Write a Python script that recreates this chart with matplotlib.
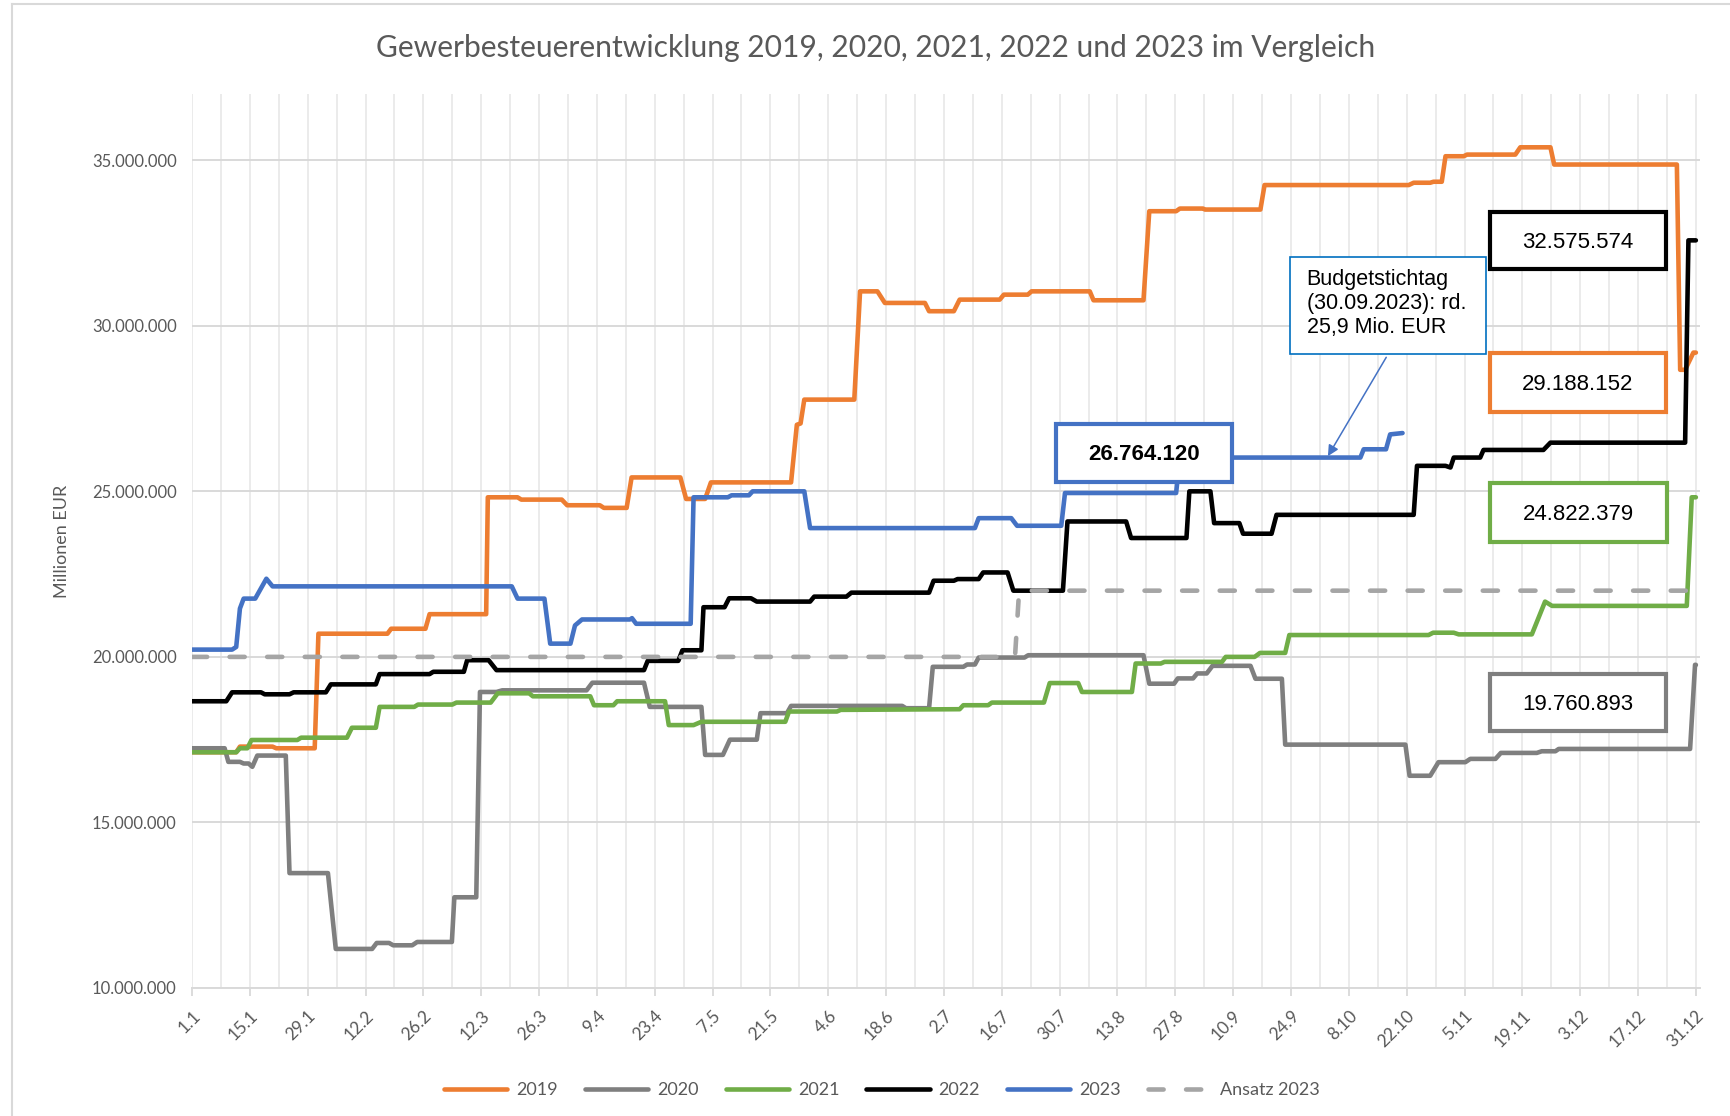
import matplotlib
matplotlib.use('Agg')
import matplotlib.pyplot as plt
import matplotlib.patches as mpatches
from matplotlib.ticker import FixedLocator, FuncFormatter
import numpy as np

plt.rcParams['font.family'] = ['Lato', 'DejaVu Sans']

# day of year (0 = 1.1.) and value in Mio. EUR
pts_2019 = [(0, 17.12), (10.7, 17.12), (11.6, 17.29), (19.5, 17.29), (20.4, 17.24), (29.7, 17.24),
            (30.6, 20.70), (47.3, 20.70), (48.2, 20.85), (56.5, 20.85), (57.5, 21.29), (71.2, 21.29),
            (71.6, 24.82), (78.8, 24.82), (79.7, 24.75), (89.5, 24.75), (90.8, 24.58), (98.7, 24.58),
            (99.7, 24.50), (105.2, 24.50), (106.4, 25.42), (118.2, 25.42), (119.6, 24.77), (124.2, 24.77),
            (125.6, 25.27), (145.0, 25.27), (146.4, 27.01), (147.3, 27.05), (148.2, 27.77), (160.3, 27.77),
            (161.7, 31.04), (165.9, 31.04), (167.7, 30.69), (177.4, 30.69), (178.4, 30.44), (184.4, 30.44),
            (185.8, 30.79), (195.5, 30.79), (196.5, 30.94), (202.3, 30.94), (203.2, 31.04), (217.3, 31.04),
            (218.2, 30.77), (230.3, 30.77), (231.7, 33.46), (238.2, 33.46), (239.1, 33.54), (244.7, 33.54),
            (245.2, 33.51), (258.6, 33.51), (259.6, 34.25), (294.5, 34.25), (295.7, 34.32), (299.7, 34.32),
            (300.5, 34.35), (302.5, 34.35), (303.4, 35.12), (307.8, 35.12), (308.6, 35.17), (320.3, 35.17),
            (321.5, 35.39), (328.8, 35.39), (329.7, 34.87), (359.4, 34.87), (360.2, 28.67), (361.4, 28.67),
            (363.4, 29.19), (364, 29.19)]

pts_2020 = [(0, 17.24), (7.9, 17.24), (8.8, 16.83), (11.6, 16.83), (12.5, 16.78), (13.7, 16.78),
            (14.6, 16.68), (15.8, 17.02), (22.7, 17.02), (23.6, 13.47), (32.9, 13.47), (34.8, 11.18),
            (43.6, 11.18), (44.7, 11.36), (47.7, 11.36), (48.7, 11.29), (53.3, 11.29), (54.5, 11.39),
            (62.9, 11.39), (63.5, 12.74), (68.8, 12.74), (69.7, 18.94), (73.7, 18.94), (75.1, 18.99),
            (95.5, 18.99), (96.9, 19.22), (109.4, 19.22), (110.8, 18.49), (123.3, 18.49), (124.2, 17.04),
            (128.5, 17.04), (130.2, 17.50), (136.7, 17.50), (137.6, 18.30), (144.0, 18.30), (145.0, 18.52),
            (171.9, 18.52), (172.8, 18.45), (178.4, 18.45), (179.3, 19.70), (186.7, 19.70), (187.6, 19.77),
            (189.5, 19.77), (190.4, 19.98), (201.5, 19.98), (202.4, 20.05), (230.3, 20.05), (231.7, 19.19),
            (237.7, 19.19), (238.6, 19.35), (242.3, 19.35), (243.3, 19.50), (245.6, 19.50), (247.0, 19.73),
            (256.2, 19.73), (257.4, 19.34), (263.8, 19.34), (264.6, 17.35), (293.7, 17.35), (294.7, 16.41),
            (299.7, 16.41), (301.7, 16.82), (308.2, 16.82), (309.4, 16.92), (315.5, 16.92), (316.8, 17.10),
            (325.5, 17.10), (326.7, 17.15), (330.0, 17.15), (330.8, 17.22), (362.6, 17.22), (363.8, 19.76),
            (364, 19.76)]

pts_2021 = [(0, 17.12), (10.7, 17.12), (11.6, 17.24), (13.4, 17.24), (14.4, 17.49), (25.5, 17.49),
            (26.4, 17.56), (37.5, 17.56), (38.7, 17.86), (44.5, 17.86), (45.4, 18.49), (53.8, 18.49),
            (54.7, 18.56), (63.0, 18.56), (64.0, 18.62), (72.3, 18.62), (74.0, 18.90), (81.6, 18.90),
            (82.5, 18.81), (96.4, 18.81), (97.3, 18.54), (102.0, 18.54), (102.9, 18.66), (114.5, 18.66),
            (115.4, 17.94), (121.4, 17.94), (123.3, 18.04), (143.6, 18.04), (144.5, 18.35), (156.1, 18.35),
            (157.0, 18.40), (185.8, 18.42), (186.7, 18.54), (192.7, 18.54), (193.6, 18.62), (206.2, 18.62),
            (207.6, 19.21), (214.5, 19.21), (215.4, 18.94), (227.5, 18.94), (228.4, 19.80), (234.5, 19.80),
            (235.4, 19.85), (249.3, 19.85), (250.2, 20.00), (257.2, 20.00), (258.5, 20.12), (264.6, 20.12),
            (265.6, 20.66), (299.3, 20.66), (300.4, 20.73), (305.4, 20.73), (306.6, 20.68), (324.3, 20.68),
            (327.5, 21.67), (329.2, 21.54), (361.8, 21.54), (363.0, 24.82), (364, 24.82)]

pts_2022 = [(0, 18.66), (8.3, 18.66), (9.7, 18.93), (16.7, 18.93), (17.6, 18.87), (23.6, 18.87),
            (24.6, 18.93), (32.4, 18.93), (33.6, 19.17), (44.5, 19.17), (45.4, 19.48), (57.5, 19.48),
            (58.4, 19.55), (65.8, 19.55), (66.6, 19.90), (71.8, 19.90), (73.7, 19.60), (109.4, 19.60),
            (110.3, 19.88), (117.7, 19.88), (118.7, 20.20), (123.3, 20.20), (123.8, 21.50), (128.9, 21.50),
            (130.0, 21.77), (135.3, 21.77), (136.7, 21.67), (149.6, 21.67), (150.6, 21.82), (158.4, 21.82),
            (159.6, 21.94), (178.4, 21.94), (179.5, 22.30), (184.4, 22.30), (185.3, 22.35), (190.4, 22.35),
            (191.5, 22.55), (197.4, 22.55), (198.8, 22.00), (210.8, 22.00), (211.9, 24.09), (226.1, 24.09),
            (227.3, 23.59), (240.7, 23.59), (241.4, 25.00), (246.5, 25.00), (247.4, 24.04), (253.5, 24.04),
            (254.4, 23.72), (261.3, 23.72), (262.5, 24.29), (295.7, 24.29), (296.5, 25.77), (303.4, 25.77),
            (304.6, 25.72), (305.4, 26.02), (311.8, 26.02), (312.6, 26.25), (327.1, 26.25), (328.8, 26.47),
            (361.4, 26.47), (362.2, 32.58), (364, 32.58)]

pts_2023 = [(0, 20.22), (9.7, 20.22), (10.7, 20.30), (11.6, 21.46), (12.5, 21.76), (15.3, 21.76),
            (18.0, 22.36), (19.5, 22.13), (77.4, 22.13), (78.8, 21.76), (85.3, 21.76), (86.7, 20.40),
            (91.6, 20.40), (92.7, 20.95), (94.4, 21.13), (106.0, 21.13), (106.5, 21.17), (107.5, 21.00),
            (120.7, 21.00), (121.4, 24.82), (129.7, 24.82), (130.6, 24.88), (134.8, 24.88), (135.7, 25.00),
            (148.2, 25.00), (149.6, 23.89), (189.5, 23.89), (190.4, 24.19), (198.3, 24.19), (199.7, 23.96),
            (210.4, 23.96), (211.3, 24.95), (238.2, 24.95), (239.1, 26.02), (282.8, 26.02), (283.6, 26.27),
            (289.0, 26.27), (290.0, 26.72), (293.0, 26.76)]

pts_ansatz = [(0, 20.0), (199.2, 20.0), (200.2, 22.0), (364, 22.0)]

series = ['2019', '2020', '2021', '2022', '2023']
colors = ['#ED7D31', '#7F7F7F', '#70AD47', '#000000', '#4472C4']
ansatz_color = '#A5A5A5'

tick_days = list(range(0, 365, 14))
tick_labels = ['1.1', '15.1', '29.1', '12.2', '26.2', '12.3', '26.3', '9.4', '23.4', '7.5', '21.5',
               '4.6', '18.6', '2.7', '16.7', '30.7', '13.8', '27.8', '10.9', '24.9', '8.10', '22.10',
               '5.11', '19.11', '3.12', '17.12', '31.12']

end_labels = ['29.188.152', '19.760.893', '24.822.379', '32.575.574', '26.764.120']
# label boxes (day_from, day_to, value_from, value_to)
label_boxes = [(314.1, 356.7, 27.40, 29.17), (314.1, 356.7, 17.76, 19.48),
               (314.1, 356.9, 23.46, 25.24), (314.1, 356.7, 31.71, 33.44),
               (209.2, 251.7, 25.29, 27.03)]

txt_col = '#595959'
fig = plt.figure(figsize=(17.31, 11.16), dpi=100)
ax = fig.add_axes([192 / 1731, 1 - 988 / 1116, (1700 - 192) / 1731, (988 - 94) / 1116])

all_pts = [pts_2019, pts_2020, pts_2021, pts_2022, pts_2023]
handles = []
for pts, name, col in zip(all_pts, series, colors):
    d = np.array(pts)
    h, = ax.plot(d[:, 0], d[:, 1] * 1e6, color=col, lw=3.3, label=name,
                 solid_joinstyle='round', solid_capstyle='round', zorder=3)
    handles.append(h)
d = np.array(pts_ansatz)
h, = ax.plot(d[:, 0], d[:, 1] * 1e6, color=ansatz_color, lw=3.3, dashes=(3.3, 4.9),
             dash_capstyle='round', label='Ansatz 2023', zorder=4)
handles.append(h)

# value boxes
for (x0, x1, y0, y1), lab, col in zip(label_boxes, end_labels, colors):
    ax.add_patch(mpatches.Rectangle((x0, y0 * 1e6), x1 - x0, (y1 - y0) * 1e6, facecolor='white',
                                    edgecolor=col, lw=3.0, zorder=6))
    ax.text((x0 + x1) / 2, (y0 + y1) / 2 * 1e6 - 0.05e6, lab, ha='center', va='center', fontsize=16,
            family='Liberation Sans', fontweight='bold' if lab == '26.764.120' else 'normal',
            color='black', zorder=7)

# callout
ax.add_patch(mpatches.Rectangle((265.7, 29.14e6), 313.2 - 265.7, (32.08 - 29.14) * 1e6,
                                facecolor='white', edgecolor='#0070C0', lw=1.2, zorder=6))
ax.text(269.8, 31.72e6, 'Budgetstichtag\n(30.09.2023): rd.\n25,9 Mio. EUR', ha='left', va='top',
        fontsize=15.5, family='Liberation Sans', linespacing=1.2, color='black', zorder=7)
ax.annotate('', xy=(274.6, 25.99e6), xytext=(289.4, 29.12e6),
            arrowprops=dict(arrowstyle='-|>', color='#4472C4', lw=1.1, mutation_scale=16), zorder=7)

ax.set_xlim(0, 365)
ax.set_ylim(10e6, 37e6)
ax.set_yticks(np.arange(10e6, 35.1e6, 5e6))
ax.yaxis.set_major_formatter(FuncFormatter(lambda v, p: f'{v:,.0f}'.replace(',', '.')))
ax.xaxis.set_major_locator(FixedLocator(tick_days))
ax.set_xticklabels(tick_labels, rotation=45, ha='right', rotation_mode='anchor')
ax.xaxis.set_minor_locator(FixedLocator(list(range(7, 365, 14))))
ax.tick_params(axis='y', length=0, pad=11, labelsize=12, labelcolor=txt_col)
ax.tick_params(axis='x', which='major', length=6, width=1.3, color='#D9D9D9', pad=8,
               labelsize=12.5, labelcolor=txt_col)
ax.tick_params(axis='x', which='minor', length=0)
ax.grid(axis='y', color='#D9D9D9', lw=1.4, zorder=0)
ax.grid(axis='x', which='both', color='#EBEBEB', lw=1.4, zorder=0)
ax.set_axisbelow(True)
for s in ['top', 'right', 'left']:
    ax.spines[s].set_visible(False)
ax.spines['bottom'].set_color('#D9D9D9')
ax.spines['bottom'].set_linewidth(1.4)

ax.set_ylabel('Millionen EUR', fontsize=13, color=txt_col, labelpad=16)
fig.text(0.506, 1 - 48 / 1116, 'Gewerbesteuerentwicklung 2019, 2020, 2021, 2022 und 2023 im Vergleich',
         ha='center', va='center', fontsize=21.6, color=txt_col)

fig.legend(handles, series + ['Ansatz 2023'], loc='center', bbox_to_anchor=(882 / 1731, 1 - 1090 / 1116),
           ncol=6, frameon=False, fontsize=13, handlelength=3.5, columnspacing=1.5,
           handletextpad=0.5, labelcolor=txt_col)

# chart area border
fig.add_artist(plt.Line2D([12 / 1731, 12 / 1731], [0, 1 - 4 / 1116], transform=fig.transFigure,
                          color='#D9D9D9', lw=1.5))
fig.add_artist(plt.Line2D([12 / 1731, 1], [1 - 4 / 1116, 1 - 4 / 1116], transform=fig.transFigure,
                          color='#D9D9D9', lw=1.5))

fig.savefig('out.png', dpi=100)
plt.close(fig)
